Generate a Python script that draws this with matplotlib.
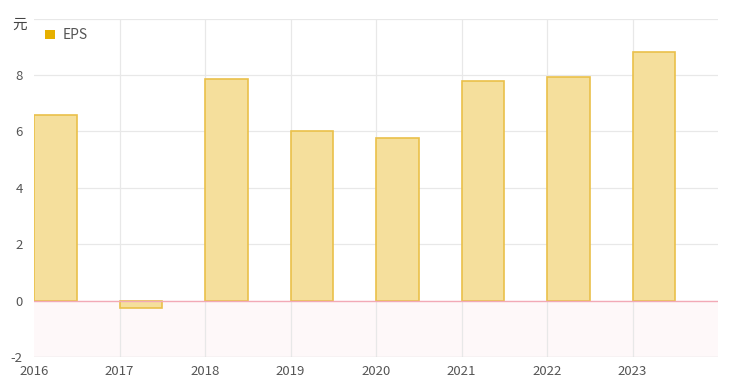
import matplotlib
matplotlib.use("Agg")
import matplotlib.pyplot as plt
import numpy as np

plt.rcParams['font.family'] = ['Noto Sans CJK SC', 'DejaVu Sans']

years = [2016, 2017, 2018, 2019, 2020, 2021, 2022, 2023]
eps = [6.59, -0.25, 7.84, 6.02, 5.77, 7.80, 7.91, 8.80]
series_name = "EPS"
unit = "元"
yticks = [-2, 0, 2, 4, 6, 8]

fig = plt.figure(figsize=(7.4, 3.87), dpi=100)
ax = fig.add_axes([34/740, (387-357)/387, (718-34)/740, (357-18.5)/387])

ax.set_xlim(2016, 2024)
ax.set_ylim(-2, 10)

# negative region shading
ax.axhspan(-2, 0, color='#fef8f9', zorder=0)

# grid
for y in [2, 4, 6, 8, 10]:
    ax.axhline(y, color='#e8e8e8', lw=0.9, zorder=1)
for x in years[1:]:
    ax.axvline(x, color='#e8e8e8', lw=0.9, zorder=1)
ax.axhline(-2, color='#dddddd', lw=1.0, zorder=1)

bars = ax.bar(years, eps, width=0.5, align='edge', color='#f5df9c',
              edgecolor='#eac04a', linewidth=1.2, zorder=3, label=series_name)
ax.axhline(0, color='#f2a9b6', lw=1.0, zorder=4)

for s in ax.spines.values():
    s.set_visible(False)

ax.set_xticks(years)
ax.set_xticklabels([str(y) for y in years])
ax.set_yticks(yticks)
ax.set_yticklabels([str(t) for t in yticks])
ax.tick_params(axis='both', length=0, colors='#555555', labelsize=9.5)
ax.tick_params(axis='x', pad=6)
ax.tick_params(axis='y', pad=8)

fig.text(12/740, 1 - 25/387, unit, fontsize=10.5, color='#444444', va='center', ha='left')

# legend
fig.patches.append(matplotlib.patches.Rectangle((45/740, 1 - 39/387), 10/740, 9/387,
                   transform=fig.transFigure, facecolor='#e6b000', edgecolor='none'))
fig.text(63/740, 1 - 35/387, series_name, fontsize=10, color='#555555', va='center', ha='left')

fig.savefig("out.png", dpi=100)
